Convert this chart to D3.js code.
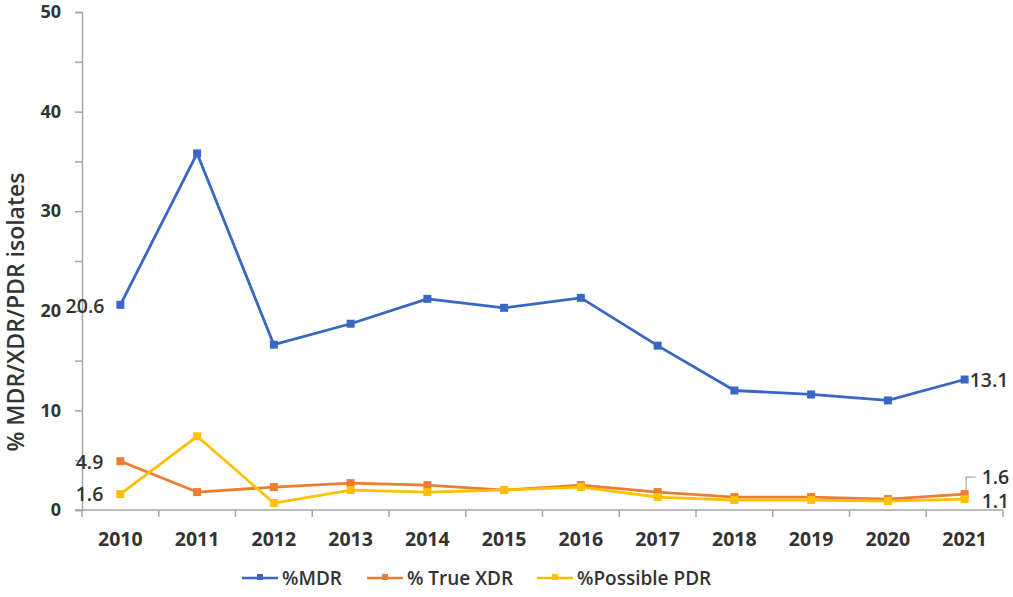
<!DOCTYPE html>
<html>
<head>
<meta charset="utf-8">
<script src="https://cdn.jsdelivr.net/npm/d3@7"></script>
<style>
  body { margin: 0; background: #fff; }
  text { font-family: 'Open Sans', sans-serif; fill: #333; }
</style>
</head>
<body>
<div id="chart"></div>
<script>
const years = ['2010', '2011', '2012', '2013', '2014', '2015', '2016', '2017', '2018', '2019', '2020', '2021']
const mdr = [20.6, 35.8, 16.6, 18.7, 21.2, 20.3, 21.3, 16.5, 12.0, 11.6, 11.0, 13.1]
const trueXdr = [4.9, 1.8, 2.3, 2.7, 2.5, 2.0, 2.5, 1.8, 1.3, 1.3, 1.1, 1.6]
const possiblePdr = [1.6, 7.4, 0.7, 2.0, 1.8, 2.0, 2.3, 1.3, 1.0, 1.0, 0.9, 1.1]
const yTicks = [0, 10, 20, 30, 40, 50]
const seriesNames = ['%MDR', '% True XDR', '%Possible PDR']

const width = 1013
const height = 597
const margin = { top: 12, right: 10, bottom: 87, left: 82 }
const colors = ['#3a67c4', '#ed7d31', '#ffc000']
const series = [mdr, trueXdr, possiblePdr]

const svg = d3.select('#chart')
  .append('svg')
  .attr('width', width)
  .attr('height', height)

const x = d3.scaleBand()
  .domain(years)
  .range([margin.left, width - margin.right])

const y = d3.scaleLinear()
  .domain([0, 50])
  .range([height - margin.bottom, margin.top])

const axisColor = '#a6a6a6'

// y axis: ticks every 5, labels every 10
const yAxis = svg.append('g')
  .attr('transform', `translate(${margin.left},0)`)
  .call(d3.axisLeft(y).tickValues(d3.range(0, 51, 5)).tickSize(7).tickFormat(d => yTicks.includes(d) ? d : ''))
yAxis.select('.domain').attr('stroke', axisColor).attr('stroke-width', 1.5)
yAxis.selectAll('.tick line').attr('stroke', axisColor).attr('stroke-width', 1.5)
yAxis.selectAll('.tick text')
  .attr('x', -21)
  .style('font-size', '18px')
  .style('font-weight', 700)
  .attr('fill', '#333')

// x axis: ticks between categories
const xAxis = svg.append('g')
  .attr('transform', `translate(0,${y(0)})`)
xAxis.append('line')
  .attr('x1', margin.left - 7)
  .attr('x2', width - margin.right)
  .attr('stroke', axisColor)
  .attr('stroke-width', 1.5)
xAxis.selectAll('.sep')
  .data([years[0]].concat(years))
  .enter().append('line')
  .attr('x1', (d, i) => i === 0 ? x(d) : x(d) + x.bandwidth())
  .attr('x2', (d, i) => i === 0 ? x(d) : x(d) + x.bandwidth())
  .attr('y1', 0)
  .attr('y2', 7)
  .attr('stroke', axisColor)
  .attr('stroke-width', 1.5)
xAxis.selectAll('.lab')
  .data(years)
  .enter().append('text')
  .attr('x', d => x(d) + x.bandwidth() / 2)
  .attr('y', 36)
  .attr('text-anchor', 'middle')
  .style('font-size', '19.5px')
  .style('font-weight', 700)
  .text(d => d)

// y axis title
svg.append('text')
  .attr('transform', `translate(24,${(y(0) + y(50)) / 2 + 51}) rotate(-90)`)
  .attr('text-anchor', 'middle')
  .style('font-size', '23px')
  .style('font-weight', 600)
  .text('% MDR/XDR/PDR isolates')

const line = d3.line()
  .x((d, i) => x(years[i]) + x.bandwidth() / 2)
  .y(d => y(d))

const plot = svg.append('g')
series.forEach((s, k) => {
  plot.append('path')
    .datum(s)
    .attr('fill', 'none')
    .attr('stroke', colors[k])
    .attr('stroke-width', 2.8)
    .attr('stroke-linejoin', 'round')
    .attr('d', line)
  plot.selectAll('.m' + k)
    .data(s)
    .enter().append('rect')
    .attr('x', (d, i) => x(years[i]) + x.bandwidth() / 2 - 4)
    .attr('y', d => y(d) - 4)
    .attr('width', 8)
    .attr('height', 8)
    .attr('fill', colors[k])
})

// data labels
const cx = i => x(years[i]) + x.bandwidth() / 2
const last = years.length - 1
const labels = [
  { text: mdr[0], x: cx(0) - 16, y: y(mdr[0]) + 8, anchor: 'end' },
  { text: trueXdr[0], x: cx(0) - 17, y: y(trueXdr[0]) + 8, anchor: 'end' },
  { text: possiblePdr[0], x: cx(0) - 17, y: y(possiblePdr[0]) + 7, anchor: 'end' },
  { text: mdr[last], x: cx(last) + 5, y: y(mdr[last]) + 7, anchor: 'start' },
  { text: trueXdr[last], x: cx(last) + 17, y: y(trueXdr[last]) - 10, anchor: 'start' },
  { text: possiblePdr[last], x: cx(last) + 17, y: y(possiblePdr[last]) + 9, anchor: 'start' }
]
svg.selectAll('.dl')
  .data(labels)
  .enter().append('text')
  .attr('x', d => d.x)
  .attr('y', d => d.y)
  .attr('text-anchor', d => d.anchor)
  .style('font-size', '19.5px')
  .style('font-weight', 600)
  .attr('fill', '#222')
  .text(d => d.text.toFixed(1))

// leader line for the 1.6 label
svg.append('path')
  .attr('d', `M${cx(last) + 1.5},${y(trueXdr[last]) - 3} V${y(trueXdr[last]) - 17} H${cx(last) + 11}`)
  .attr('fill', 'none')
  .attr('stroke', '#a6a6a6')
  .attr('stroke-width', 1.2)

// legend
const legendX = [242, 367, 537]
const legend = svg.append('g').attr('transform', 'translate(0,578)')
seriesNames.forEach((name, k) => {
  const g = legend.append('g').attr('transform', `translate(${legendX[k]},0)`)
  g.append('line')
    .attr('x1', 0).attr('x2', 36)
    .attr('stroke', colors[k])
    .attr('stroke-width', 2.5)
  g.append('rect')
    .attr('x', 15).attr('y', -4)
    .attr('width', 6).attr('height', 6)
    .attr('fill', colors[k])
  g.append('text')
    .attr('x', 40)
    .attr('y', 7)
    .style('font-size', '19px')
    .style('font-weight', 600)
    .text(name)
})
</script>
</body>
</html>
